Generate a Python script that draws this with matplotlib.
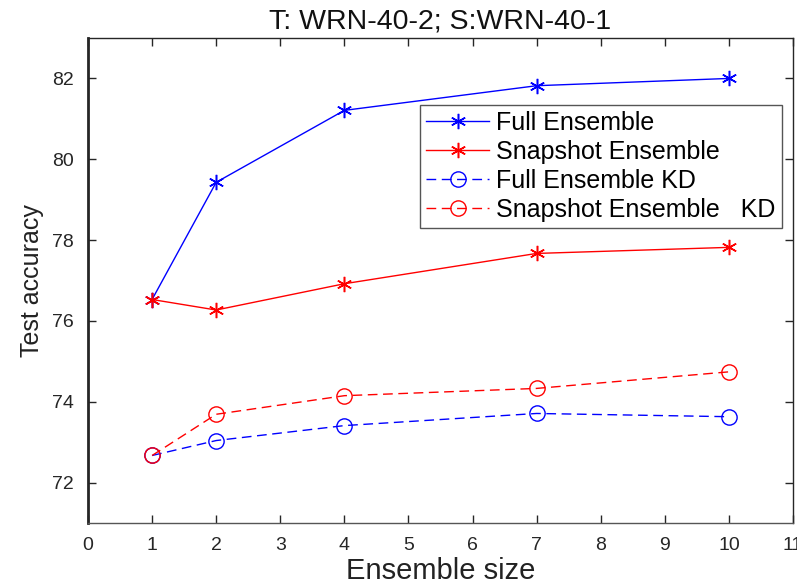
import matplotlib.pyplot as plt

plt.rcParams['font.family'] = ['Liberation Sans', 'DejaVu Sans']

sizes = [1, 2, 4, 7, 10]
full_ens = [76.53, 79.43, 81.21, 81.82, 82.00]
snap_ens = [76.53, 76.27, 76.92, 77.67, 77.82]
full_kd = [72.67, 73.04, 73.41, 73.71, 73.63]
snap_kd = [72.67, 73.69, 74.15, 74.33, 74.74]

fig = plt.figure(figsize=(7.97, 5.85), dpi=100)
ax = fig.add_axes([0.1104, 0.106, 0.8846, 0.829])

star = (6, 2, 0)  # matlab-like asterisk
ax.plot(sizes, full_ens, "-", marker=star, color="#0000ff", lw=1, ms=11, mew=1.1,
        label="Full Ensemble")
ax.plot(sizes, snap_ens, "-", marker=star, color="#ff0000", lw=1, ms=11, mew=1.1,
        label="Snapshot Ensemble")
ax.plot(sizes, full_kd, "--o", color="#0000ff", lw=1, ms=11, mfc="none", mew=1,
        dashes=(7, 4), label="Full Ensemble KD")
ax.plot(sizes, snap_kd, "--o", color="#ff0000", lw=1, ms=11, mfc="none", mew=1,
        dashes=(7, 4), label="Snapshot Ensemble   KD")

ax.set_xlim(0, 11)
ax.set_ylim(71, 83)
ax.set_xticks(range(0, 12))
ax.set_yticks([72, 74, 76, 78, 80, 82])
ax.tick_params(direction="in", length=6, width=1, top=True, right=True,
               labelsize=14, colors="#262626", pad=10)
for s in ax.spines.values():
    s.set_color("#262626")
    s.set_linewidth(1)
ax.spines["bottom"].set_color("#555555")
ax.spines["left"].set_linewidth(2)

ax.set_title("T: WRN-40-2; S:WRN-40-1", fontsize=20.5, color="#111111", pad=7)
ax.set_xlabel("Ensemble size", fontsize=21, color="#222222", labelpad=2)
ax.set_ylabel("Test accuracy", fontsize=18, color="#222222", labelpad=6)

leg = ax.legend(loc="upper left", bbox_to_anchor=(0.471, 0.862), fontsize=18,
                frameon=True, fancybox=False, framealpha=1,
                handlelength=2.5, handletextpad=0.3, labelspacing=0.2,
                borderaxespad=0, borderpad=0.25)
leg.get_frame().set_edgecolor("#555555")
leg.get_frame().set_linewidth(1)

fig.savefig("out.png", dpi=100)
